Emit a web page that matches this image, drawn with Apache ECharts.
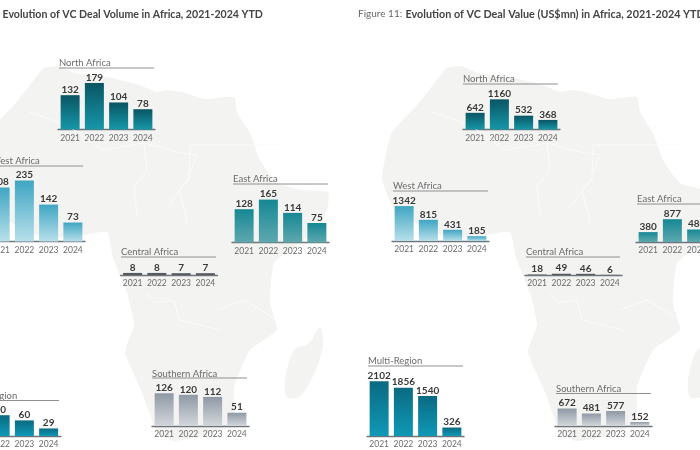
<!DOCTYPE html>
<html><head><meta charset="utf-8">
<style>html,body{margin:0;padding:0;background:#fff}#c{width:700px;height:450px}</style>
<script src="https://cdn.jsdelivr.net/npm/echarts@6/dist/echarts.min.js"></script>
</head><body><div id="c"></div>
<script>
// --- data ---
const years = ['2021','2022','2023','2024'];
const volNorth = [132,179,104,78];
const volWest = [208,235,142,73];
const volEast = [128,165,114,75];
const volCentral = [8,8,7,7];
const volSouthern = [126,120,112,51];
const volMultiYears = ['2022','2023','2024'];
const volMulti = [80,60,29];
const valNorth = [642,1160,532,368];
const valWest = [1342,815,431,185];
const valEast = [380,877,480];
const valEastYears = ['2021','2022','2023'];
const valCentral = [18,49,46,6];
const valSouthern = [672,481,577,152];
const valMulti = [2102,1856,1540,326];

// --- palette and layout ---
const cNorth=['#0a5563','#1697a8'], cWest=['#3fa5c3','#b8e0ea'], cEast=['#158894','#5fa8ae'],
      cCentral=['#555a60','#555a60'], cSouth=['#8f99a4','#d3d7db'], cMulti=['#0a6a82','#0f99b6'];
const volScale=0.26, valScale=0.026;
const panels=[
 {t:'North Africa',c:years,v:volNorth,x:58,w:97,b:129.5,s:volScale,col:cNorth,tx:59,ty:63,ly:68,lx:[59,154]},
 {t:'West Africa',c:years,v:volWest,x:-12,w:97,b:241.5,s:volScale,col:cWest,tx:-9,ty:161,ly:166,lx:[-12,83]},
 {t:'East Africa',c:years,v:volEast,x:232,w:97,b:242.5,s:volScale,col:cEast,tx:233,ty:179,ly:184,lx:[233,328]},
 {t:'Central Africa',c:years,v:volCentral,x:120.5,w:97,b:275,s:volScale,col:cCentral,tx:121,ty:252,ly:257,lx:[121,216]},
 {t:'Southern Africa',c:years,v:volSouthern,x:152,w:97,b:426,s:volScale,col:cSouth,tx:152,ty:373.5,ly:378,lx:[152,247]},
 {t:'Multi-Region',c:volMultiYears,v:volMulti,x:-12,w:72.75,b:436,s:volScale,col:cMulti,tx:-37,ty:395.5,ly:400.5,lx:[-37,59]},
 {t:'North Africa',c:years,v:valNorth,x:463,w:97,b:129.5,s:valScale,col:cNorth,tx:463,ty:79,ly:84,lx:[463,558]},
 {t:'West Africa',c:years,v:valWest,x:392,w:97,b:241,s:valScale,col:cWest,tx:393,ty:186,ly:191,lx:[393,488]},
 {t:'East Africa',c:valEastYears,v:valEast,x:636,w:72.75,b:242,s:valScale,col:cEast,tx:637,ty:199,ly:204,lx:[637,732]},
 {t:'Central Africa',c:years,v:valCentral,x:525,w:97,b:275,s:valScale,col:cCentral,tx:526,ty:252,ly:257,lx:[526,620]},
 {t:'Southern Africa',c:years,v:valSouthern,x:555,w:97,b:426,s:valScale,col:cSouth,tx:556,ty:389,ly:393.5,lx:[556,651]},
 {t:'Multi-Region',c:years,v:valMulti,x:367,w:97,b:436,s:valScale,col:cMulti,tx:368,ty:361,ly:366,lx:[368,463]}
];

// decorative backdrop (right-hand map; left-hand map is the same shape shifted)
const outline=[[447,68],[462,66],[478,73],[515,78],[545,86],[560,92],[570,90],[585,92],[608,99],[637,97],[640,112],[653,133],[663,160],[680,183],[705,190],[731,192],[731,206],[722,228],[700,245],[677,263],[673,303],[680,330],[653,350],[637,387],[636,422],[610,435],[576,441],[560,432],[545,392],[528,352],[537,325],[530,293],[516,258],[510,232],[480,236],[450,238],[420,226],[392,205],[382,178],[388,145],[392,132],[417,105],[433,85]];
const madagascar=[[723,327],[726,345],[718,372],[703,396],[690,397],[688,380],[697,350],[712,343]];
const borders=[
 [[432,112],[470,125],[505,150],[547,143],[580,152],[600,155],[590,180],[572,205]],
 [[547,143],[550,170],[537,187],[540,215]],
 [[593,145],[683,145]],
 [[593,145],[592,180],[582,190],[590,222]],
 [[550,293],[557,303],[577,300],[582,320],[623,330]],
 [[620,310],[647,300],[677,318]]
];

const shift=(pts,dx)=>pts.map(p=>[p[0]+dx,p[1]]);
const graphic=[];
const mapFill='#f3f3f2';
[0,-403].forEach(dx=>{
  graphic.push({type:'polygon',z:0,shape:{points:shift(outline,dx),smooth:0.15},style:{fill:mapFill}});
  graphic.push({type:'polygon',z:0,shape:{points:shift(madagascar,dx),smooth:0.3},style:{fill:mapFill}});
  borders.forEach(b=>graphic.push({type:'polyline',z:1,shape:{points:shift(b,dx)},style:{stroke:'#fbfbfb',lineWidth:1,fill:null}}));
});
const font='Lato';
graphic.push({type:'text',z:5,x:2.5,y:9,style:{text:'Evolution of VC Deal Volume in Africa, 2021-2024 YTD',font:'bold 10.6px '+font,fill:'#444'}});
graphic.push({type:'text',z:5,x:358,y:9,style:{text:'Figure 11:',font:'10px '+font,fill:'#666'}});
graphic.push({type:'text',z:5,x:405.5,y:9,style:{text:'Evolution of VC Deal Value (US$mn) in Africa, 2021-2024 YTD',font:'bold 10.8px '+font,fill:'#444'}});

const H=70, grid=[],xAxis=[],yAxis=[],series=[];
panels.forEach((p,i)=>{
  graphic.push({type:'text',z:5,x:p.tx,y:p.ty,style:{text:p.t,font:'9.5px '+font,fill:'#6b6b6b',verticalAlign:'middle'}});
  graphic.push({type:'line',z:5,shape:{x1:p.lx[0],y1:p.ly,x2:p.lx[1],y2:p.ly},style:{stroke:'#8f8f8f',lineWidth:1.2}});
  grid.push({left:p.x,width:p.w,top:p.b-H,height:H,containLabel:false,outerBoundsMode:'none'});
  xAxis.push({type:'category',gridIndex:i,data:p.c,boundaryGap:true,
    axisLine:{lineStyle:{color:'#6e7478',width:1.4}},axisTick:{show:false},
    axisLabel:{fontFamily:font,fontSize:8.5,color:'#6b6b6b',margin:4,interval:0}});
  yAxis.push({type:'value',gridIndex:i,min:0,max:H/p.s,show:false,splitLine:{show:false}});
  series.push({type:'bar',xAxisIndex:i,yAxisIndex:i,data:p.v,barWidth:19,
    itemStyle:{color:{type:'linear',x:0,y:0,x2:0,y2:1,colorStops:[{offset:0,color:p.col[0]},{offset:1,color:p.col[1]}]}},
    label:{show:true,position:'top',distance:0.5,fontFamily:font,fontSize:10,fontWeight:'bold',color:'#3a3a3a'},
    animation:false,silent:true});
});
const chart=echarts.init(document.getElementById('c'),null,{renderer:'canvas'});
chart.setOption({animation:false,backgroundColor:'#fff',graphic:graphic,grid,xAxis,yAxis,series});
</script></body></html>
